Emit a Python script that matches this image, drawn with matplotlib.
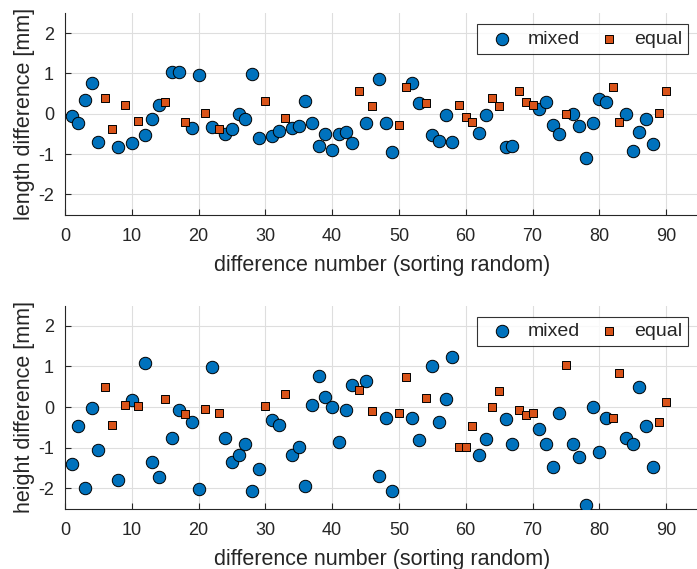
import numpy as np
import matplotlib.pyplot as plt

plt.rcParams['font.family'] = ['Liberation Sans', 'DejaVu Sans']
plt.rcParams['axes.unicode_minus'] = False

# difference numbers 1..90, in random order of sorting
diff_number = np.arange(1, 91)

# which differences belong to the "equal" group (the rest are "mixed")
equal_numbers = [6, 7, 9, 11, 15, 18, 21, 23, 30, 33, 44, 46, 50, 51, 54, 59,
                 60, 61, 64, 65, 68, 69, 70, 75, 82, 83, 89, 90]

length_diff = [
    -0.06, -0.22, 0.34, 0.76, -0.71, 0.38, -0.38, -0.82, 0.22, -0.73,
    -0.17, -0.52, -0.12, 0.21, 0.29, 1.03, 1.03, -0.20, -0.36, 0.96,
    0.02, -0.34, -0.37, -0.51, -0.39, -0.01, -0.13, 0.98, -0.60, 0.32,
    -0.55, -0.43, -0.10, -0.35, -0.31, 0.31, -0.23, -0.80, -0.51, -0.91,
    -0.51, -0.45, -0.73, 0.56, -0.22, 0.18, 0.86, -0.22, -0.95, -0.28,
    0.66, 0.76, 0.26, 0.26, -0.53, -0.67, -0.04, -0.71, 0.21, -0.07,
    -0.20, -0.47, -0.02, 0.38, 0.18, -0.82, -0.80, 0.56, 0.28, 0.22,
    0.11, 0.28, -0.28, -0.50, 0.00, 0.00, -0.30, -1.11, -0.23, 0.37,
    0.28, 0.66, -0.21, 0.00, -0.93, -0.45, -0.14, -0.76, 0.02, 0.56,
]

height_diff = [
    -1.40, -0.48, -1.99, -0.02, -1.05, 0.50, -0.44, -1.81, 0.06, 0.18,
    0.03, 1.09, -1.36, -1.72, 0.20, -0.76, -0.07, -0.17, -0.38, -2.03,
    -0.04, 0.99, -0.14, -0.77, -1.35, -1.17, -0.92, -2.06, -1.52, 0.03,
    -0.31, -0.44, 0.33, -1.19, -0.99, -1.95, 0.06, 0.76, 0.25, 0.00,
    -0.87, -0.07, 0.55, 0.43, 0.65, -0.10, -1.69, -0.28, -2.08, -0.14,
    0.73, -0.27, -0.81, 0.22, 1.02, -0.37, 0.19, 1.22, -0.98, -0.98,
    -0.48, -1.19, -0.78, -0.01, 0.39, -0.30, -0.90, -0.07, -0.20, -0.14,
    -0.55, -0.90, -1.49, -0.15, 1.03, -0.90, -1.22, -2.41, -0.01, -1.10,
    -0.26, -0.27, 0.83, -0.76, -0.91, 0.49, -0.48, -1.47, -0.37, 0.12,
]

is_equal = np.isin(diff_number, equal_numbers)
blue = '#0072BD'
orange = '#D95319'
dark = '#262626'

W, H = 697, 569
fig = plt.figure(figsize=(W / 100, H / 100), dpi=100)


def make_axes(top_px, bottom_px):
    left, right = 65, 699.5
    return fig.add_axes([left / W, 1 - bottom_px / H,
                         (right - left) / W, (bottom_px - top_px) / H])


panels = [
    (make_axes(13, 214.5), length_diff, 'length difference [mm]'),
    (make_axes(305.5, 508.5), height_diff, 'height difference [mm]'),
]

for ax, values, ylabel in panels:
    values = np.asarray(values)
    ax.scatter(diff_number[~is_equal], values[~is_equal], s=80, marker='o',
               color=blue, edgecolor='black', linewidth=0.7, zorder=3,
               label='mixed')
    ax.scatter(diff_number[is_equal], values[is_equal], s=40, marker='s',
               color=orange, edgecolor='black', linewidth=0.7, zorder=3,
               label='equal')
    ax.set_xlim(0, 95)
    ax.set_ylim(-2.5, 2.5)
    ax.set_xticks(range(0, 91, 10))
    ax.set_yticks([-2, -1, 0, 1, 2])
    ax.grid(True, color='#dedede', linewidth=0.8)
    ax.set_axisbelow(True)
    for side in ('top', 'right'):
        ax.spines[side].set_visible(False)
    for side in ('left', 'bottom'):
        ax.spines[side].set_color(dark)
        ax.spines[side].set_linewidth(0.8)
    ax.tick_params(direction='in', length=4, width=0.8, colors=dark,
                   labelsize=13, labelcolor=dark)
    ax.tick_params(axis='x', pad=10)
    ax.tick_params(axis='y', pad=8)
    ax.set_xlabel('difference number (sorting random)', fontsize=15.5,
                  color=dark, labelpad=7)
    ax.set_ylabel(ylabel, fontsize=15.5, color=dark, labelpad=2)
    leg = ax.legend(loc='upper right', bbox_to_anchor=(0.982, 0.944), ncol=2,
                    fontsize=14, frameon=True, fancybox=False,
                    edgecolor='black', handletextpad=0.3, columnspacing=0.5,
                    borderpad=0.3, handlelength=2.0, borderaxespad=0)
    leg.get_frame().set_linewidth(0.8)
    for t in leg.get_texts():
        t.set_color(dark)

fig.savefig('out.png', dpi=100)
